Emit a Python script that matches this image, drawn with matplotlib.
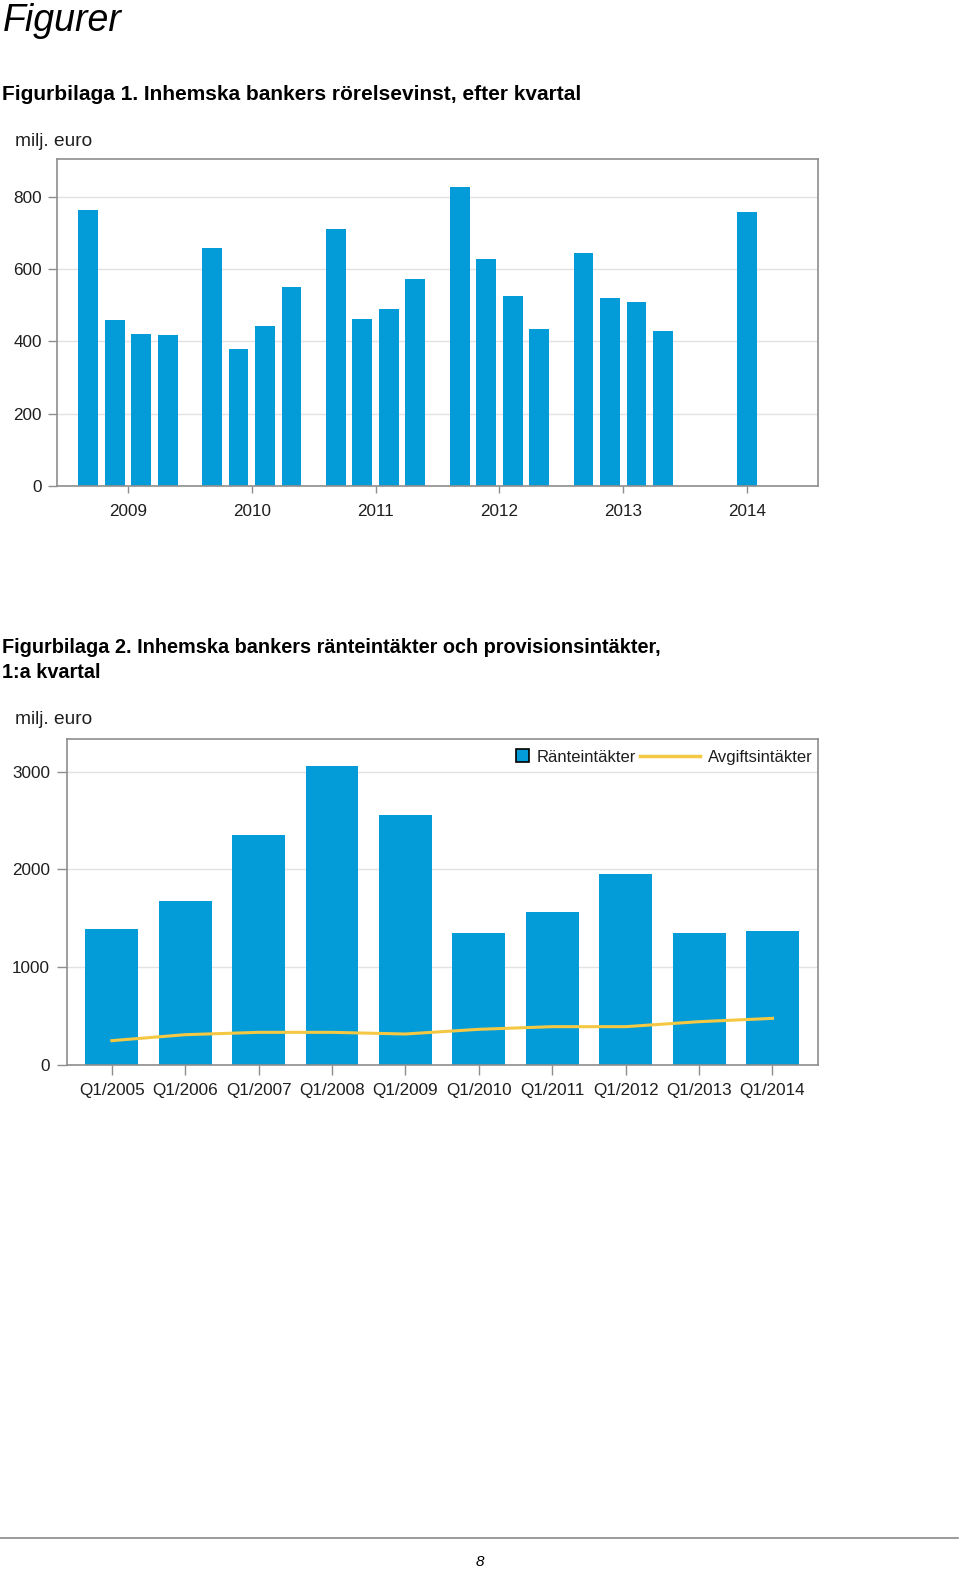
import matplotlib
matplotlib.use("Agg")
import matplotlib.pyplot as plt
import matplotlib.patches as mpatches
from matplotlib.lines import Line2D
from matplotlib.legend_handler import HandlerPatch

# figure 1: operating profit per quarter, grouped by year
years = ['2009', '2010', '2011', '2012', '2013', '2014']
quarterly_profit = [
    [763, 459, 420, 417],
    [659, 378, 443, 551],
    [711, 463, 490, 573],
    [828, 628, 525, 434],
    [646, 520, 508, 429],
    [758],
]

# figure 2: first quarter interest and fee income
quarters = ['Q1/2005', 'Q1/2006', 'Q1/2007', 'Q1/2008', 'Q1/2009',
            'Q1/2010', 'Q1/2011', 'Q1/2012', 'Q1/2013', 'Q1/2014']
interest_income = [1393, 1679, 2353, 3054, 2557, 1346, 1568, 1954, 1347, 1374]
fee_income = [249, 310, 334, 334, 317, 365, 392, 392, 443, 477]

W, H = 960, 1572
BLUE = '#039cd9'
YELLOW = '#f5c843'
FRAME = '#8e8e8e'
GRID = '#e2e2e2'
TXT = '#1e1e1e'

plt.rcParams['font.family'] = ['Liberation Sans', 'DejaVu Sans']

fig = plt.figure(figsize=(W / 100, H / 100), dpi=100)


def px_axes(left, top, right, bottom):
    return fig.add_axes([left / W, 1 - bottom / H, (right - left) / W, (bottom - top) / H])


def style_axes(ax, ytick_len, xtick_len):
    for s in ax.spines.values():
        s.set_color(FRAME)
        s.set_linewidth(1.2)
    ax.grid(axis='y', color=GRID, linewidth=1)
    ax.set_axisbelow(True)
    ax.tick_params(axis='y', direction='out', length=ytick_len, width=1, color=FRAME,
                   pad=4.5, labelsize=12.3, labelcolor=TXT)
    ax.tick_params(axis='x', direction='out', length=xtick_len, width=1, color=FRAME,
                   pad=8, labelsize=12.3, labelcolor=TXT)


# page texts
fig.text(3 / W, 1 - 31 / H, 'Figurer', fontsize=27, style='italic', color='black')
fig.text(2 / W, 1 - 100 / H, 'Figurbilaga 1. Inhemska bankers rörelsevinst, efter kvartal',
         fontsize=15.0, weight='bold', color='black')
fig.text(2 / W, 1 - 653 / H,
         'Figurbilaga 2. Inhemska bankers ränteintäkter och provisionsintäkter,',
         fontsize=14.35, weight='bold', color='black')
fig.text(2 / W, 1 - 678 / H, '1:a kvartal', fontsize=14.35, weight='bold', color='black')
fig.text(15 / W, 1 - 141 / H, 'milj. euro', fontsize=13.8, color=TXT, va='center')
fig.text(15 / W, 1 - 719 / H, 'milj. euro', fontsize=13.8, color=TXT, va='center')

# ---- chart 1 ----
ax1 = px_axes(57, 159, 818, 486)
step = 0.214
width = 0.161
for i, vals in enumerate(quarterly_profit):
    n = len(vals)
    xs = [i + (k - (n - 1) / 2) * step for k in range(n)]
    ax1.bar(xs, vals, width=width, color=BLUE, linewidth=0)
ax1.set_xlim(-0.573, len(years) - 1 + 0.573)
ax1.set_ylim(0, 905)
ax1.set_yticks([0, 200, 400, 600, 800])
ax1.set_xticks(range(len(years)))
ax1.set_xticklabels(years)
style_axes(ax1, 6.5, 5)

# ---- chart 2 ----
ax2 = px_axes(67, 739, 818, 1065)
x2 = range(len(quarters))
ax2.bar(x2, interest_income, width=0.72, color=BLUE, linewidth=0)
ax2.plot(x2, fee_income, color=YELLOW, linewidth=2.2)
ax2.set_xlim(-0.61, len(quarters) - 1 + 0.62)
ax2.set_ylim(0, 3334)
ax2.set_yticks([0, 1000, 2000, 3000])
ax2.set_xticks(list(x2))
ax2.set_xticklabels(quarters)
style_axes(ax2, 7.2, 7.2)
ax2.tick_params(axis='y', pad=5)
ax2.tick_params(axis='x', pad=6)


def square_patch(legend, orig_handle, xdescent, ydescent, width, height, fontsize):
    s = height * 1.1
    return mpatches.Rectangle((-xdescent + width - s, -ydescent + (height - s) / 2), s, s)


handles = [mpatches.Patch(facecolor=BLUE, edgecolor='black', linewidth=1.2),
           Line2D([], [], color=YELLOW, linewidth=2.5)]
leg = ax2.legend(handles, ['Ränteintäkter', 'Avgiftsintäkter'], ncol=2, loc='upper right',
                 bbox_to_anchor=(1.0 + 6 / 751, 1.0 + 1 / 326), frameon=False, fontsize=12,
                 handlelength=3.6, handletextpad=0.45, columnspacing=0.25,
                 borderaxespad=0.3,
                 handler_map={mpatches.Patch: HandlerPatch(patch_func=square_patch)})
for t in leg.get_texts():
    t.set_color(TXT)

# page footer
fig.add_artist(Line2D([0, 958 / W], [1 - 1538 / H, 1 - 1538 / H], color='#8a8a8a', linewidth=1.2))
fig.text(480 / W, 1 - 1562 / H, '8', fontsize=11, style='italic', ha='center', va='center')

fig.savefig('out.png', dpi=100)
